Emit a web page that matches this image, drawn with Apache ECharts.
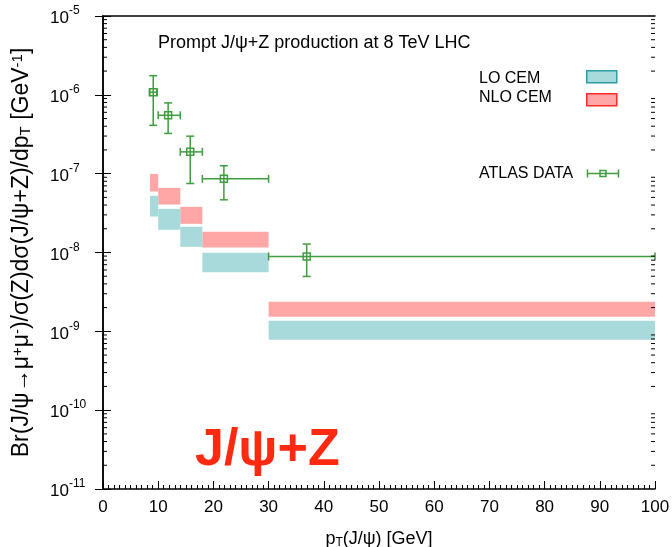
<!DOCTYPE html>
<html>
<head>
<meta charset="utf-8">
<script src="https://cdn.jsdelivr.net/npm/echarts@6/dist/echarts.min.js"></script>
<style>html,body{margin:0;padding:0;background:#fff;}#c{width:672px;height:547px;}</style>
</head>
<body>
<div id="c"></div>
<script>
// Theory bands (bins in pT, GeV)
const binLo = [8.5, 10, 14, 18, 30];
const binHi = [10, 14, 18, 30, 100];
const loCemLow  = [2.86e-8, 1.94e-8, 1.18e-8, 5.6e-9, 7.8e-10];
const loCemHigh = [5.24e-8, 3.58e-8, 2.12e-8, 9.9e-9, 1.36e-9];
const nloCemLow  = [5.93e-8, 4.06e-8, 2.31e-8, 1.16e-8, 1.53e-9];
const nloCemHigh = [9.9e-8, 6.6e-8, 3.79e-8, 1.83e-8, 2.37e-9];

// ATLAS data
const atlasX   = [9.1, 11.8, 15.8, 21.9, 36.9];
const atlasXLo = [8.4, 10, 14, 18, 30];
const atlasXHi = [9.8, 14, 18, 30, 100];
const atlasY   = [1.08e-6, 5.5e-7, 1.89e-7, 8.6e-8, 8.9e-9];
const atlasYLo = [4.1e-7, 3.24e-7, 7.5e-8, 4.66e-8, 4.97e-9];
const atlasYHi = [1.75e-6, 7.9e-7, 2.99e-7, 1.26e-7, 1.28e-8];

// Axis ticks
const xTicks = [0, 10, 20, 30, 40, 50, 60, 70, 80, 90, 100];
const yDecades = [-11, -10, -9, -8, -7, -6, -5];
const yMinorMantissas = [2, 3, 4, 5, 6, 7, 8, 9];

const FONT = '"Liberation Sans", Arial, Helvetica, sans-serif';
const GREEN = '#3f9c3f';
const PINK = '#ffa6a6';
const TEAL = '#a8dadc';

const yMinorValues = [];
yDecades.slice(0, -1).forEach(function (d) {
  yMinorMantissas.forEach(function (m) { yMinorValues.push(m * Math.pow(10, d)); });
});

function bandData(lo, hi) {
  return binLo.map(function (x0, i) { return [x0, binHi[i], lo[i], hi[i]]; });
}

function renderBand(color) {
  return function (params, api) {
    const p0 = api.coord([api.value(0), api.value(3)]);
    const p1 = api.coord([api.value(1), api.value(2)]);
    return {
      type: 'rect',
      shape: { x: p0[0], y: p0[1], width: p1[0] - p0[0], height: p1[1] - p0[1] },
      style: { fill: color }
    };
  };
}

const atlasData = atlasX.map(function (x, i) {
  return [x, atlasY[i], atlasXLo[i], atlasXHi[i], atlasYLo[i], atlasYHi[i]];
});

function renderErr(params, api) {
  const x = api.value(0), y = api.value(1);
  const c = api.coord([x, y]);
  const l = api.coord([api.value(2), y]);
  const r = api.coord([api.value(3), y]);
  const b = api.coord([x, api.value(4)]);
  const t = api.coord([x, api.value(5)]);
  const cap = 4, sq = 3.5;
  const st = { stroke: GREEN, lineWidth: 1.5, fill: null };
  function line(x1, y1, x2, y2) { return { type: 'line', shape: { x1: x1, y1: y1, x2: x2, y2: y2 }, style: st }; }
  return {
    type: 'group',
    children: [
      line(l[0], c[1], r[0], c[1]),
      line(l[0], c[1] - cap, l[0], c[1] + cap),
      line(r[0], c[1] - cap, r[0], c[1] + cap),
      line(c[0], t[1], c[0], b[1]),
      line(c[0] - cap, t[1], c[0] + cap, t[1]),
      line(c[0] - cap, b[1], c[0] + cap, b[1]),
      { type: 'rect', shape: { x: c[0] - sq, y: c[1] - sq, width: 2 * sq, height: 2 * sq }, style: { stroke: GREEN, lineWidth: 1.5, fill: null } }
    ]
  };
}

function renderMinor(params, api) {
  const v = api.value(0);
  const pl = api.coord([0, v]);
  const pr = api.coord([100, v]);
  const st = { stroke: '#000', lineWidth: 1 };
  return {
    type: 'group',
    children: [
      { type: 'line', shape: { x1: pl[0], y1: pl[1], x2: pl[0] + 4, y2: pl[1] }, style: st },
      { type: 'line', shape: { x1: pr[0], y1: pr[1], x2: pr[0] - 4, y2: pr[1] }, style: st }
    ]
  };
}

const chart = echarts.init(document.getElementById('c'), null, { renderer: 'canvas' });

const yLabel = function (v) {
  const e = Math.round(Math.log10(v));
  return '{b|10}{s|' + e + '}';
};

chart.setOption({
  animation: false,
  backgroundColor: '#fff',
  textStyle: { fontFamily: FONT },
  grid: { left: 103, right: 17, top: 16, bottom: 58, containLabel: false, outerBoundsMode: 'none' },
  xAxis: [{
    type: 'value', min: 0, max: 100, interval: 10,
    name: 'p{sub|T}(J/ψ) [GeV]', nameLocation: 'middle', nameGap: 40,
    nameTextStyle: { fontFamily: FONT, fontSize: 18, color: '#000',
      rich: { sub: { fontSize: 12, verticalAlign: 'bottom', padding: [8, 0, 0, 0], fontFamily: FONT, color: '#000' } } },
    axisLine: { show: true, lineStyle: { color: '#000', width: 1.5 } },
    axisTick: { show: true, inside: true, length: 8, lineStyle: { color: '#000' } },
    minorTick: { show: true, splitNumber: 10, length: 4, lineStyle: { color: '#000' } },
    axisLabel: { fontFamily: FONT, fontSize: 17, color: '#000', margin: 10,
      formatter: function (v) { return xTicks.indexOf(v) >= 0 ? String(v) : ''; } },
    splitLine: { show: false }
  }, {
    type: 'value', min: 0, max: 100, position: 'top',
    axisLine: { show: true, lineStyle: { color: '#000', width: 1.5 } },
    axisTick: { show: false }, axisLabel: { show: false }, splitLine: { show: false }
  }],
  yAxis: [{
    type: 'log', logBase: 10, min: 1e-11, max: 1e-5,
    name: 'Br(J/ψ→μ{sup|+}μ{sup|-})/σ(Z)dσ(J/ψ+Z)/dp{sub|T} [GeV{sup|-1}]',
    nameLocation: 'middle', nameGap: 70, nameRotate: 90,
    nameTextStyle: { fontFamily: FONT, fontSize: 23, color: '#000',
      rich: {
        sup: { fontSize: 15, verticalAlign: 'top', fontFamily: FONT, color: '#000' },
        sub: { fontSize: 15, verticalAlign: 'bottom', fontFamily: FONT, color: '#000' }
      } },
    axisLine: { show: true, lineStyle: { color: '#000', width: 1.5 } },
    axisTick: { show: true, inside: true, length: 8, lineStyle: { color: '#000' } },
    axisLabel: { fontFamily: FONT, color: '#000', margin: 53, align: 'left', formatter: yLabel,
      rich: {
        b: { fontSize: 17, fontFamily: FONT, color: '#000', lineHeight: 22, verticalAlign: 'bottom' },
        s: { fontSize: 12, fontFamily: FONT, color: '#000', verticalAlign: 'top' }
      } },
    splitLine: { show: false }
  }, {
    type: 'log', logBase: 10, min: 1e-11, max: 1e-5, position: 'right',
    axisLine: { show: true, lineStyle: { color: '#000', width: 1.5 } },
    axisTick: { show: true, inside: true, length: 8, lineStyle: { color: '#000' } },
    axisLabel: { show: false }, splitLine: { show: false }
  }],
  graphic: [
    { type: 'text', left: 158, top: 34, style: { text: 'Prompt J/ψ+Z production at 8 TeV LHC', font: '18px ' + FONT, fill: '#000' } },
    { type: 'text', left: 479, top: 71, style: { text: 'LO CEM', font: '16px ' + FONT, fill: '#000' } },
    { type: 'text', left: 479, top: 90, style: { text: 'NLO CEM', font: '16px ' + FONT, fill: '#000' } },
    { type: 'text', left: 479, top: 166, style: { text: 'ATLAS DATA', font: '16px ' + FONT, fill: '#000' } },
    { type: 'rect', left: 586, top: 70, shape: { width: 30, height: 12 }, style: { fill: TEAL, stroke: '#2a9ea6', lineWidth: 1.5 } },
    { type: 'rect', left: 586, top: 93, shape: { width: 30, height: 12 }, style: { fill: PINK, stroke: '#ff2a2a', lineWidth: 1.5 } },
    { type: 'group', left: 585, top: 167, children: [
      { type: 'line', shape: { x1: 0, y1: 4, x2: 31, y2: 4 }, style: { stroke: GREEN, lineWidth: 1.5 } },
      { type: 'line', shape: { x1: 0, y1: 0, x2: 0, y2: 8 }, style: { stroke: GREEN, lineWidth: 1.5 } },
      { type: 'line', shape: { x1: 31, y1: 0, x2: 31, y2: 8 }, style: { stroke: GREEN, lineWidth: 1.5 } },
      { type: 'rect', shape: { x: 12.5, y: 1, width: 6, height: 6 }, style: { stroke: GREEN, lineWidth: 1.5, fill: null } }
    ] },
    { type: 'text', left: 195, top: 425, style: { text: 'J/ψ+Z', font: 'bold 52px ' + FONT, fill: '#ff2a10' } }
  ],
  series: [
    { type: 'custom', name: 'NLO CEM', xAxisIndex: 0, yAxisIndex: 0, renderItem: renderBand(PINK),
      encode: { x: [0, 1], y: [2, 3] }, data: bandData(nloCemLow, nloCemHigh), z: 1 },
    { type: 'custom', name: 'LO CEM', xAxisIndex: 0, yAxisIndex: 0, renderItem: renderBand(TEAL),
      encode: { x: [0, 1], y: [2, 3] }, data: bandData(loCemLow, loCemHigh), z: 1 },
    { type: 'custom', name: 'ATLAS DATA', xAxisIndex: 0, yAxisIndex: 0, renderItem: renderErr,
      encode: { x: [0, 2, 3], y: [1, 4, 5] }, data: atlasData, z: 3 },
    { type: 'custom', name: 'minor', xAxisIndex: 0, yAxisIndex: 0, renderItem: renderMinor,
      encode: { y: 0 }, data: yMinorValues.map(function (v) { return [v]; }), z: 5, silent: true }
  ]
});
</script>
</body>
</html>
